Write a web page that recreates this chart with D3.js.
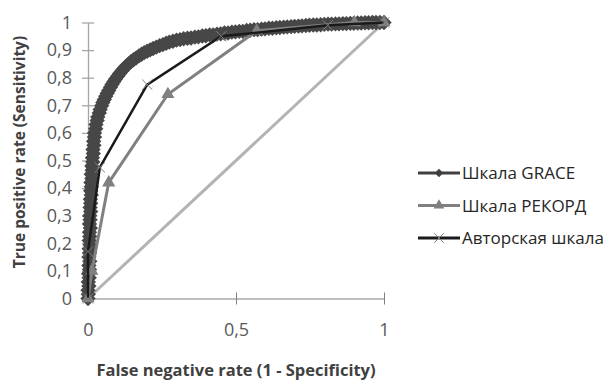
<!DOCTYPE html>
<html>
<head>
<meta charset="utf-8">
<script src="https://cdn.jsdelivr.net/npm/d3@7"></script>
<style>
  body { margin: 0; background: #fff; }
  svg { display: block; font-family: 'Open Sans', sans-serif; }
</style>
</head>
<body>
<svg id="chart" width="605" height="380"></svg>
<script>
// ROC points: [1 - specificity, sensitivity]
const graceRoc = [
  [0, 0], [0.001, 0.015], [0, 0.03], [0.003, 0.045], [0.001, 0.06], [0.004, 0.075],
  [0.002, 0.09], [0.005, 0.105], [0.003, 0.12], [0.006, 0.135], [0.003, 0.15],
  [0.005, 0.165], [0.004, 0.18], [0.007, 0.195], [0.004, 0.21], [0.006, 0.225],
  [0.005, 0.24], [0.008, 0.255], [0.005, 0.27], [0.007, 0.285], [0.006, 0.3],
  [0.009, 0.315], [0.007, 0.33], [0.009, 0.345], [0.008, 0.36], [0.011, 0.375],
  [0.009, 0.39], [0.011, 0.405], [0.01, 0.42], [0.013, 0.435], [0.011, 0.45],
  [0.014, 0.465], [0.013, 0.48], [0.016, 0.495], [0.015, 0.51], [0.018, 0.525],
  [0.017, 0.54], [0.02, 0.555], [0.019, 0.57], [0.022, 0.585], [0.022, 0.6],
  [0.026, 0.615], [0.027, 0.63], [0.031, 0.645], [0.033, 0.658], [0.038, 0.672],
  [0.041, 0.685], [0.046, 0.698], [0.05, 0.71], [0.055, 0.721], [0.06, 0.733],
  [0.065, 0.744], [0.07, 0.754], [0.076, 0.765], [0.081, 0.775], [0.087, 0.785],
  [0.093, 0.795], [0.1, 0.805], [0.107, 0.815], [0.114, 0.824], [0.121, 0.833],
  [0.129, 0.842], [0.137, 0.85], [0.145, 0.858], [0.154, 0.865], [0.163, 0.872],
  [0.172, 0.879], [0.181, 0.885], [0.19, 0.891], [0.2, 0.896], [0.21, 0.901],
  [0.22, 0.906], [0.231, 0.911], [0.242, 0.916], [0.253, 0.92], [0.264, 0.925],
  [0.275, 0.929], [0.287, 0.932], [0.299, 0.936], [0.311, 0.938], [0.323, 0.941],
  [0.336, 0.943], [0.348, 0.944], [0.361, 0.947], [0.373, 0.948], [0.386, 0.951],
  [0.398, 0.952], [0.411, 0.955], [0.423, 0.955], [0.436, 0.958], [0.448, 0.959],
  [0.461, 0.962], [0.473, 0.962], [0.486, 0.965], [0.498, 0.966], [0.511, 0.968],
  [0.523, 0.968], [0.536, 0.971], [0.548, 0.972], [0.561, 0.974], [0.573, 0.974],
  [0.586, 0.976], [0.598, 0.977], [0.611, 0.979], [0.623, 0.979], [0.636, 0.981],
  [0.648, 0.982], [0.661, 0.983], [0.673, 0.984], [0.686, 0.985], [0.698, 0.986],
  [0.711, 0.987], [0.723, 0.988], [0.736, 0.989], [0.748, 0.99], [0.761, 0.991],
  [0.773, 0.991], [0.786, 0.992], [0.798, 0.993], [0.811, 0.994], [0.823, 0.994],
  [0.836, 0.995], [0.848, 0.995], [0.861, 0.996], [0.873, 0.996], [0.886, 0.997],
  [0.898, 0.997], [0.911, 0.998], [0.923, 0.998], [0.936, 0.999], [0.948, 0.999],
  [0.961, 1], [0.973, 1], [0.986, 1], [1, 1]
];
const recordRoc = [[0, 0], [0.013, 0.1], [0.07, 0.42], [0.27, 0.74], [0.57, 0.97], [0.9, 1], [1, 1]];
const authorRoc = [[0, 0], [0, 0.17], [0.04, 0.475], [0.2, 0.775], [0.45, 0.95], [0.81, 0.99], [1, 1]];
const chanceLine = [[0, 0], [1, 1]];

const seriesNames = ['Шкала GRACE', 'Шкала РЕКОРД', 'Авторская шкала'];
const yTicks = [0, 0.1, 0.2, 0.3, 0.4, 0.5, 0.6, 0.7, 0.8, 0.9, 1];
const xTicks = [0, 0.5, 1];

const svg = d3.select('#chart');
const x = d3.scaleLinear().domain([0, 1]).range([88, 384]);
const y = d3.scaleLinear().domain([0, 1]).range([298.5, 22.5]);
const fmt = v => String(v).replace('.', ',');

// axes
const yAxis = svg.append('g').attr('transform', `translate(${x(0)},0)`)
  .call(d3.axisLeft(y).tickValues(yTicks).tickFormat(fmt).tickSizeInner(6).tickSizeOuter(0).tickPadding(10));
yAxis.select('.domain').attr('stroke', '#a6a6a6').attr('stroke-width', 1.3);
yAxis.selectAll('.tick line').attr('stroke', '#a6a6a6').attr('stroke-width', 1.3).attr('x2', 6).attr('x1', -6);
yAxis.selectAll('.tick text').attr('font-size', 18).attr('fill', '#595959').attr('font-family', 'Open Sans');

const xAxis = svg.append('g').attr('transform', `translate(0,${y(0)})`)
  .call(d3.axisBottom(x).tickValues(xTicks).tickFormat(fmt).tickSizeInner(6).tickSizeOuter(0).tickPadding(19));
xAxis.select('.domain').attr('stroke', '#7f7f7f').attr('stroke-width', 1);
xAxis.selectAll('.tick line').attr('stroke', '#7f7f7f').attr('y1', -6).attr('y2', 6);
xAxis.selectAll('.tick text').attr('font-size', 18).attr('fill', '#595959').attr('font-family', 'Open Sans');

const line = d3.line().x(d => x(d[0])).y(d => y(d[1]));
const plot = svg.append('g');
const diamond = d3.symbol(d3.symbolSquare, 118)();

// chance diagonal
plot.append('path').datum(chanceLine).attr('d', line)
  .attr('fill', 'none').attr('stroke', '#b3b3b3').attr('stroke-width', 3);

// GRACE
plot.append('path').datum(graceRoc).attr('d', line)
  .attr('fill', 'none').attr('stroke', '#404040').attr('stroke-width', 3);
plot.selectAll('.grace').data(graceRoc).join('path').attr('class', 'grace')
  .attr('transform', d => `translate(${x(d[0])},${y(d[1])}) rotate(45)`)
  .attr('d', diamond)
  .attr('fill', '#474747');

// РЕКОРД
plot.append('path').datum(recordRoc).attr('d', line)
  .attr('fill', 'none').attr('stroke', '#808080').attr('stroke-width', 3);
plot.selectAll('.record').data(recordRoc).join('path').attr('class', 'record')
  .attr('transform', d => `translate(${x(d[0])},${y(d[1])})`)
  .attr('d', d3.symbol(d3.symbolTriangle, 75)())
  .attr('fill', '#808080');

// авторская
plot.append('path').datum(authorRoc).attr('d', line)
  .attr('fill', 'none').attr('stroke', '#1a1a1a').attr('stroke-width', 2.5);
plot.selectAll('.author').data(authorRoc).join('path').attr('class', 'author')
  .attr('transform', d => `translate(${x(d[0])},${y(d[1])})`)
  .attr('d', d3.symbol(d3.symbolX, 70)())
  .attr('fill', 'none').attr('stroke', '#808080').attr('stroke-width', 1);

// axis titles
svg.append('text').attr('x', 236).attr('y', 376).attr('text-anchor', 'middle')
  .attr('font-size', 16.5).attr('font-weight', 'bold').attr('fill', '#404040')
  .text('False negative rate (1 - Specificity)');
svg.append('text').attr('transform', 'translate(25,152) rotate(-90)').attr('text-anchor', 'middle')
  .attr('font-size', 15.5).attr('font-weight', 'bold').attr('fill', '#404040')
  .text('True positive rate (Sensitivity)');

// legend
const legendStyles = [
  { color: '#404040', sym: d3.symbolSquare, size: 36, rot: 45, fill: true },
  { color: '#808080', sym: d3.symbolTriangle, size: 50, rot: 0, fill: true },
  { color: '#1a1a1a', sym: d3.symbolX, size: 60, rot: 0, fill: false }
];
const legend = svg.append('g');
seriesNames.forEach((name, i) => {
  const st = legendStyles[i];
  const ly = 173 + i * 32.5;
  const g = legend.append('g').attr('transform', `translate(0,${ly})`);
  g.append('line').attr('x1', 418).attr('x2', 460).attr('y1', 0).attr('y2', 0)
    .attr('stroke', st.color).attr('stroke-width', 3);
  g.append('path').attr('transform', `translate(439,0) rotate(${st.rot})`)
    .attr('d', d3.symbol(st.sym, st.size)())
    .attr('fill', st.fill ? st.color : 'none')
    .attr('stroke', st.fill ? 'none' : '#808080');
  g.append('text').attr('x', 462).attr('y', 6).attr('font-size', 17).attr('fill', '#262626')
    .text(name);
});
</script>
</body>
</html>
